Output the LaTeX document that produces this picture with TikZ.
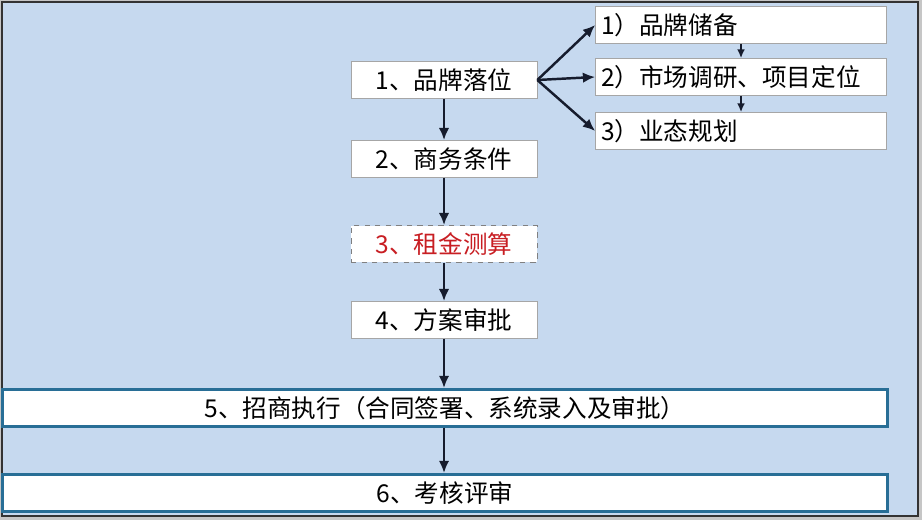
\documentclass[tikz,border=0pt]{standalone}
\usepackage{fontspec}
\usepackage{tikz}
\usepackage{xcolor}
\usetikzlibrary{arrows.meta}
\newfontfamily\cjk{Noto Sans CJK SC}
\definecolor{bgblue}{RGB}{198,217,239}
\definecolor{boxblue}{RGB}{40,110,150}
\definecolor{redtext}{RGB}{200,30,35}
\definecolor{arrowdark}{RGB}{22,28,45}

\begin{document}
\begin{tikzpicture}[x=0.02cm,y=-0.02cm,
    box/.style={draw=gray!70,fill=white,minimum height=0.74cm,inner sep=0pt,font=\cjk\fontsize{14}{16}\selectfont},
    midbox/.style={box,minimum width=3.72cm},
    sidebox/.style={box,minimum width=5.82cm,text width=5.6cm,align=left},
    widebox/.style={box,draw=boxblue,line width=1.6pt,minimum width=17.7cm},
    link/.style={-{Latex[length=7pt,width=6pt]},line width=1.4pt,arrowdark},
    smalllink/.style={-{Latex[length=5pt,width=4.5pt]},line width=1pt,arrowdark}]
  \useasboundingbox (0,0) rectangle (922,520);
  \fill[gray!45] (0,0) rectangle (922,520);
  \draw[fill=bgblue,draw=black!80,line width=0.6pt] (2,2) rectangle (918,516);
  % middle column
  \node[midbox] (brand) at (444,80) {1、品牌落位};
  \node[midbox] (terms) at (444,159) {2、商务条件};
  \node[midbox,draw=gray,dashed,text=redtext] (rent) at (444,244) {3、租金测算};
  \node[midbox] (plan) at (444,320) {4、方案审批};
  \node[widebox] (exec) at (445,408) {5、招商执行（合同签署、系统录入及审批）};
  \node[widebox] (review) at (445,493) {6、考核评审};
  % right column
  \node[sidebox] (reserve) at (741,25) {1）品牌储备};
  \node[sidebox] (market) at (741,77) {2）市场调研、项目定位};
  \node[sidebox] (format) at (741,131) {3）业态规划};
  % arrows
  \draw[link] (brand.east) -- (reserve.west);
  \draw[link] (brand.east) -- (market.west);
  \draw[link] (brand.east) -- (format.west);
  \draw[smalllink] (reserve) -- (market);
  \draw[smalllink] (market) -- (format);
  \draw[link] (brand) -- (terms);
  \draw[link] (terms) -- (rent);
  \draw[link] (rent) -- (plan);
  \draw[link] (plan.south) -- (plan.south |- exec.north);
  \draw[link] (exec.south -| plan.south) -- (plan.south |- review.north);
\end{tikzpicture}
\end{document}
